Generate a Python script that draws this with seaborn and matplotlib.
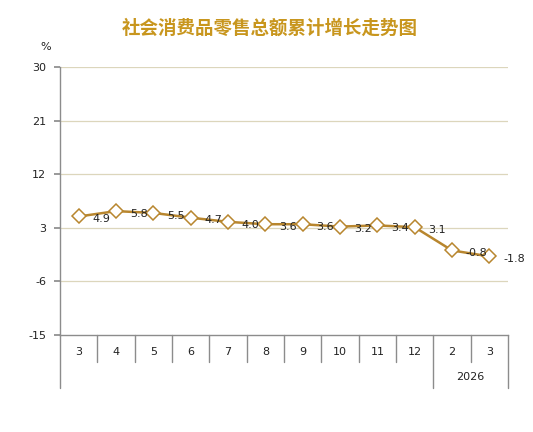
import numpy as np
import pandas as pd
import matplotlib
matplotlib.use('Agg')
import matplotlib.pyplot as plt
import matplotlib.transforms as mtransforms
import seaborn as sns

months = ['3', '4', '5', '6', '7', '8', '9', '10', '11', '12', '2', '3']
values = [4.9, 5.8, 5.5, 4.7, 4.0, 3.6, 3.6, 3.2, 3.4, 3.1, -0.8, -1.8]
year_label = '2026'
yticks = [30, 21, 12, 3, -6, -15]
title = '社会消费品零售总额累计增长走势图'

line_color = '#b8862e'
title_color = '#c8961e'
grid_color = '#dcd6bc'

sns.set_theme(style='white')
plt.rcParams['font.family'] = ['DejaVu Sans', 'Noto Sans CJK SC']

df = pd.DataFrame({'pos': np.arange(len(values)), 'value': values})

fig = plt.figure(figsize=(5.33, 4.32), dpi=100)
ax = fig.add_axes([60/533, 1-335/432, 448/533, 268/432])

for y in yticks[:-1]:
	ax.axhline(y, color=grid_color, lw=0.9, zorder=0)

sns.lineplot(data=df, x='pos', y='value', ax=ax, color=line_color, lw=1.8,
	marker='D', markersize=7, markerfacecolor='white',
	markeredgecolor=line_color, markeredgewidth=1.1)

for i, v in enumerate(values):
	ax.annotate('%.1f' % v, (i, v), xytext=(10, -2), textcoords='offset points',
		ha='left', va='center', fontsize=8, color='#222222')

ax.set_xlim(-0.5, len(values) - 0.5)
ax.set_ylim(-15, 30)
ax.set_yticks(yticks)
ax.set_yticklabels([str(t) for t in yticks], fontsize=8, color='#222222')
ax.tick_params(axis='y', direction='out', length=4, color='#8c8c8c', pad=6, left=True)
ax.set_xticks([])
ax.set_xlabel('')
ax.set_ylabel('')
for s in ['top', 'right']:
	ax.spines[s].set_visible(False)
for s in ['left', 'bottom']:
	ax.spines[s].set_color('#8c8c8c')
	ax.spines[s].set_linewidth(1)

trans = mtransforms.blended_transform_factory(ax.transData, ax.transAxes)
for i, m in enumerate(months):
	ax.text(i, -0.062, m, transform=trans, ha='center', va='center', fontsize=8, color='#222222')
for b in range(len(months) + 1):
	x = b - 0.5
	low = -0.198 if b in (0, 10, 12) else -0.10
	ax.plot([x, x], [0, low], transform=trans, color='#8c8c8c', lw=1, clip_on=False)
ax.text(10.5, -0.157, year_label, transform=trans, ha='center', va='center', fontsize=8, color='#222222')

fig.text(46/533, 1-47/432, '%', ha='center', va='center', fontsize=8, color='#222222')
fig.text(270/533, 1-28/432, title, ha='center', va='center', fontsize=13.3,
	fontweight='bold', color=title_color, family=['Noto Sans CJK SC', 'DejaVu Sans'])

fig.savefig('out.png', dpi=100, facecolor='white')
